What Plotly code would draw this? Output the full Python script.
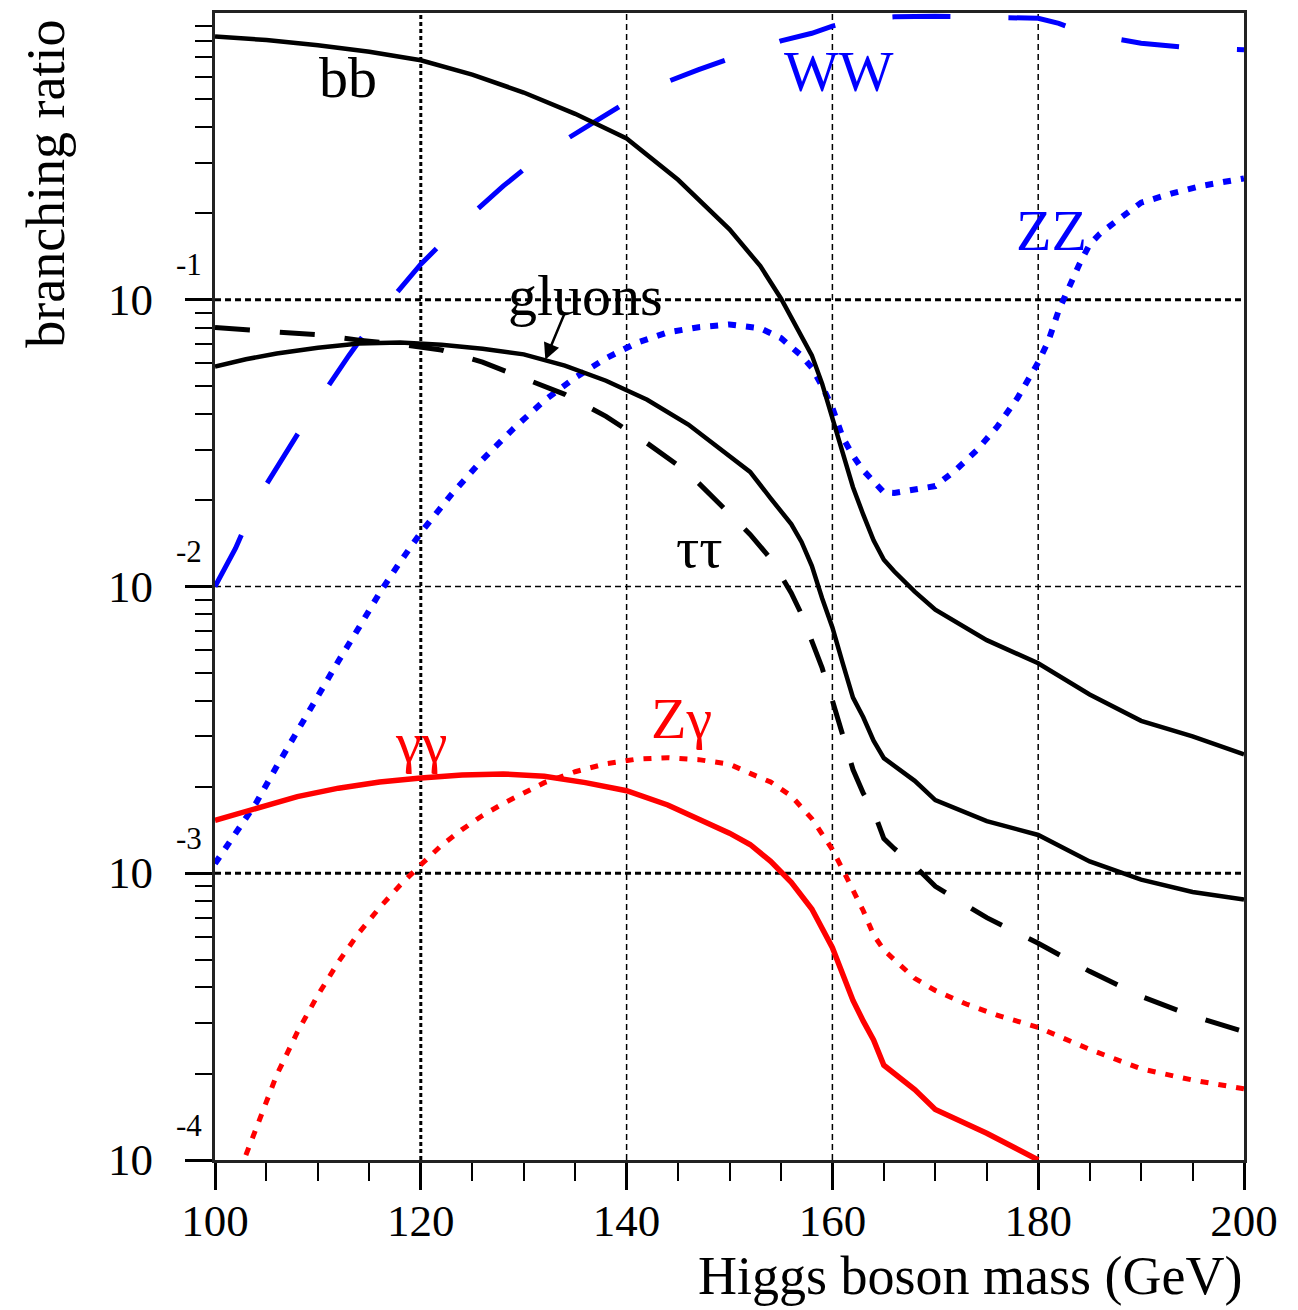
import plotly.graph_objects as go

# ---- Higgs boson branching ratios vs. mass (GeV) ----
mass_bb = [100, 105, 110, 115, 120, 125, 130, 135, 140, 145, 150, 153, 155, 157, 158,
           159, 160, 161, 162, 163, 164, 165, 166, 168, 170, 175, 180, 185, 190, 195, 200]
br_bb = [0.828, 0.805, 0.772, 0.733, 0.684, 0.61, 0.528, 0.445, 0.365, 0.262, 0.176,
         0.131, 0.101, 0.074, 0.064, 0.051, 0.039, 0.029, 0.0222, 0.0178, 0.0145,
         0.0124, 0.0113, 0.0096, 0.0083, 0.0065, 0.0054, 0.0042, 0.0034, 0.0030, 0.0026]

mass_gg = [100, 103, 106, 110, 114, 118, 122, 126, 130, 134, 138, 142, 146, 150, 152,
           154, 156, 157, 158, 159, 160, 161, 162, 163, 164, 165, 166, 168, 170, 175,
           180, 185, 190, 195, 200]
br_gg = [0.0585, 0.062, 0.0649, 0.068, 0.0704, 0.0709, 0.0697, 0.0675, 0.0645, 0.0589,
         0.0522, 0.0448, 0.0367, 0.0284, 0.0251, 0.0203, 0.0165, 0.0143, 0.0118, 0.0091,
         0.0072, 0.0054, 0.0041, 0.0035, 0.0029, 0.00252, 0.00238, 0.0021, 0.0018,
         0.00152, 0.00136, 0.0011, 0.00095, 0.00086, 0.00081]

mass_tautau = [100, 103, 106, 110, 114, 118, 122, 126, 130, 134, 138, 142, 146, 150, 152,
               154, 156, 157, 158, 159, 160, 161, 162, 163, 164, 165, 166, 168, 170, 175,
               180, 185, 190, 195, 200]
br_tautau = [0.080, 0.0789, 0.0772, 0.0755, 0.0723, 0.0700, 0.0668, 0.0606, 0.0535, 0.0468,
             0.0392, 0.0316, 0.0249, 0.0179, 0.0152, 0.0125, 0.0095, 0.0080, 0.0064,
             0.0052, 0.0040, 0.0030, 0.0023, 0.0019, 0.00165, 0.00132, 0.00122, 0.00106,
             0.00090, 0.00070, 0.00057, 0.000455, 0.000372, 0.000318, 0.00028]

mass_ww = [100, 102, 104, 107, 110, 113, 116, 120, 124, 128, 132, 137, 142, 147, 150, 152,
           155, 158, 160, 163, 166, 170, 175, 180, 182, 184, 186, 190, 195, 200]
br_ww = [0.0100, 0.0136, 0.0199, 0.0297, 0.0442, 0.0638, 0.0900, 0.133, 0.185, 0.249,
         0.325, 0.42, 0.541, 0.635, 0.69, 0.73, 0.80, 0.85, 0.90, 0.955, 0.970, 0.975,
         0.97, 0.958, 0.92, 0.865, 0.83, 0.785, 0.755, 0.745]

mass_zz = [100, 102, 104, 106, 108, 110, 112, 114, 116, 118, 120, 123, 126, 129, 132, 135,
           138, 141, 144, 147, 150, 153, 155, 157, 158, 159, 160, 161, 162, 163, 164, 165,
           166, 168, 170, 172, 174, 176, 178, 180, 181, 182, 183, 184, 185, 186, 188, 190,
           193, 196, 200]
br_zz = [0.00108, 0.00138, 0.00176, 0.00236, 0.00315, 0.0042, 0.0055, 0.0072, 0.0095,
         0.0122, 0.0154, 0.0210, 0.0277, 0.0355, 0.0445, 0.0535, 0.0625, 0.0708, 0.0770,
         0.0802, 0.0820, 0.0795, 0.0735, 0.0638, 0.0580, 0.0500, 0.0420, 0.0331, 0.0286,
         0.0254, 0.0231, 0.0213, 0.0212, 0.0217, 0.0224, 0.0255, 0.0298, 0.0360, 0.0455,
         0.0605, 0.0720, 0.0920, 0.1120, 0.1330, 0.1560, 0.1700, 0.1930, 0.2180, 0.2350,
         0.2500, 0.2650]

mass_gamgam = [100, 104, 108, 112, 116, 120, 124, 128, 132, 136, 140, 144, 148, 150, 152,
               154, 156, 158, 160, 161, 162, 163, 164, 165, 166, 168, 170, 172, 175, 178, 180]
br_gamgam = [0.00153, 0.00168, 0.00185, 0.00198, 0.00208, 0.00215, 0.00220, 0.00222,
             0.00218, 0.00207, 0.00194, 0.00173, 0.00150, 0.00138, 0.00126, 0.00110,
             0.00093, 0.00075, 0.00055, 0.00044, 0.00036, 0.000305, 0.000262, 0.000214,
             0.000201, 0.000176, 0.000150, 0.000139, 0.000124, 0.000109, 0.000100]

mass_zgam = [103, 104, 106, 108, 110, 112, 114, 116, 118, 120, 122, 124, 126, 128, 130, 132,
             135, 138, 141, 144, 147, 150, 152, 154, 156, 158, 159, 160, 161, 162, 163, 164,
             165, 166, 168, 170, 173, 176, 180, 185, 190, 195, 200]
br_zgam = [0.000104, 0.000130, 0.000198, 0.000279, 0.000376, 0.000491, 0.000621, 0.000759,
           0.000910, 0.00107, 0.00125, 0.00142, 0.00159, 0.00175, 0.00191, 0.00207,
           0.00226, 0.00241, 0.00250, 0.00253, 0.00249, 0.00240, 0.00223, 0.00208,
           0.00186, 0.00155, 0.00137, 0.00121, 0.00103, 0.00087, 0.00074, 0.00061,
           0.00054, 0.00050, 0.00043, 0.00039, 0.00035, 0.00032, 0.00029, 0.000243,
           0.000208, 0.00019, 0.000177]

# axis tick positions / labels
x_major = [100, 120, 140, 160, 180, 200]
x_grid = [120, 140, 160, 180]
x_grid_width = [3, 1.5, 1.5, 1.5]
y_exponents = [-4, -3, -2, -1]
y_grid = [1e-3, 1e-2, 1e-1]
y_grid_width = [3, 1.5, 3]

SERIF = "Liberation Serif, Times New Roman, serif"
BLUE = "#0000ff"
RED = "#ff0000"

fig = go.Figure()


def add_curve(m, br, color, width, dash):
    fig.add_trace(go.Scatter(
        x=m, y=br, mode="lines",
        line=dict(color=color, width=width, dash=dash),
        hoverinfo="skip", showlegend=False,
    ))


add_curve(mass_zz, br_zz, BLUE, 6, "8px,10px")
add_curve(mass_zgam, br_zgam, RED, 5, "8px,10px")
add_curve(mass_ww, br_ww, BLUE, 5, "58px,58px")
add_curve(mass_tautau, br_tautau, "black", 5, "35px,30px")
add_curve(mass_bb, br_bb, "black", 4.5, "solid")
add_curve(mass_gg, br_gg, "black", 4.5, "solid")
add_curve(mass_gamgam, br_gamgam, RED, 5.5, "solid")

# dotted grid lines
shapes = []
for xv, w in zip(x_grid, x_grid_width):
    shapes.append(dict(type="line", xref="x", yref="paper", x0=xv, x1=xv, y0=0, y1=1,
                       line=dict(color="black", width=w,
                                 dash="4px,3px" if w > 2 else "6px,4px"),
                       layer="below"))
for yv, w in zip(y_grid, y_grid_width):
    shapes.append(dict(type="line", xref="paper", yref="y", x0=0, x1=1, y0=yv, y1=yv,
                       line=dict(color="black", width=w,
                                 dash="6px,4px"),
                       layer="below"))

annotations = []

# y tick labels drawn as 10 with a raised exponent
for e in y_exponents:
    annotations.append(dict(text="10", xref="paper", yref="y", x=-0.0583, y=e,
                            xanchor="right", yanchor="middle", showarrow=False,
                            font=dict(family=SERIF, size=45, color="black")))
    annotations.append(dict(text=f"-{abs(e)}", xref="paper", yref="y", x=-0.0395,
                            y=e + 0.122, xanchor="left", yanchor="middle",
                            showarrow=False,
                            font=dict(family=SERIF, size=31, color="black")))

# channel labels (positions in mass, log10 BR)
channel_labels = [
    ("bb", 112.9, -0.225, "black"),
    ("WW", 160.6, -0.205, BLUE),
    ("ZZ", 181.3, -0.760, BLUE),
    ("gluons", 136.0, -0.985, "black"),
    ("\u03c4\u03c4", 147.1, -1.865, "black"),
    ("\u03b3\u03b3", 120.0, -2.545, RED),
    ("Z\u03b3", 145.3, -2.460, RED),
]
for txt, xm, ylog, col in channel_labels:
    annotations.append(dict(text=txt, x=xm, y=ylog, xref="x", yref="y",
                            showarrow=False, xanchor="center", yanchor="middle",
                            font=dict(family=SERIF, size=58, color=col)))

# arrow from the gluons label to its curve
annotations.append(dict(text="", x=132.1, y=-1.209, ax=134.0, ay=-1.045,
                        xref="x", yref="y", axref="x", ayref="y",
                        showarrow=True, arrowhead=2, arrowsize=1.3, arrowwidth=2.5,
                        arrowcolor="black", standoff=0, startstandoff=0))

# axis titles
annotations.append(dict(text="Higgs boson mass (GeV)", xref="paper", yref="paper",
                        x=1.0, y=-0.101, xanchor="right", yanchor="middle",
                        showarrow=False,
                        font=dict(family=SERIF, size=54, color="black")))
annotations.append(dict(text="branching ratio", xref="paper", yref="paper",
                        x=-0.165, y=0.996, xanchor="center", yanchor="top",
                        textangle=-90, showarrow=False,
                        font=dict(family=SERIF, size=54, color="black")))

fig.update_layout(
    width=1298, height=1310,
    margin=dict(l=215, r=54, t=10, b=150),
    paper_bgcolor="white", plot_bgcolor="white",
    showlegend=False,
    shapes=shapes,
    annotations=annotations,
    xaxis=dict(
        range=[100, 200], tickmode="array", tickvals=x_major,
        ticks="outside", ticklen=27, tickwidth=3, tickcolor="black",
        ticklabelstandoff=-8,
        tickfont=dict(family=SERIF, size=45, color="black"),
        showgrid=False, zeroline=False,
        showline=True, mirror=True, linecolor="#222", linewidth=2.5,
        minor=dict(tick0=100, dtick=5, ticks="outside", ticklen=18, tickwidth=2,
                   tickcolor="black", showgrid=False),
    ),
    yaxis=dict(
        type="log", range=[-4, 0], tickmode="array",
        tickvals=[10.0 ** e for e in y_exponents], showticklabels=False,
        ticks="outside", ticklen=27, tickwidth=3, tickcolor="black",
        showgrid=False, zeroline=False,
        showline=True, mirror=True, linecolor="#222", linewidth=2.5,
        minor=dict(tickmode="array",
                   tickvals=[k * 10.0 ** e for e in range(-4, 0) for k in range(2, 10)],
                   ticks="outside", ticklen=17, tickwidth=2, tickcolor="black",
                   showgrid=False),
    ),
)

fig.write_html("out.html")
